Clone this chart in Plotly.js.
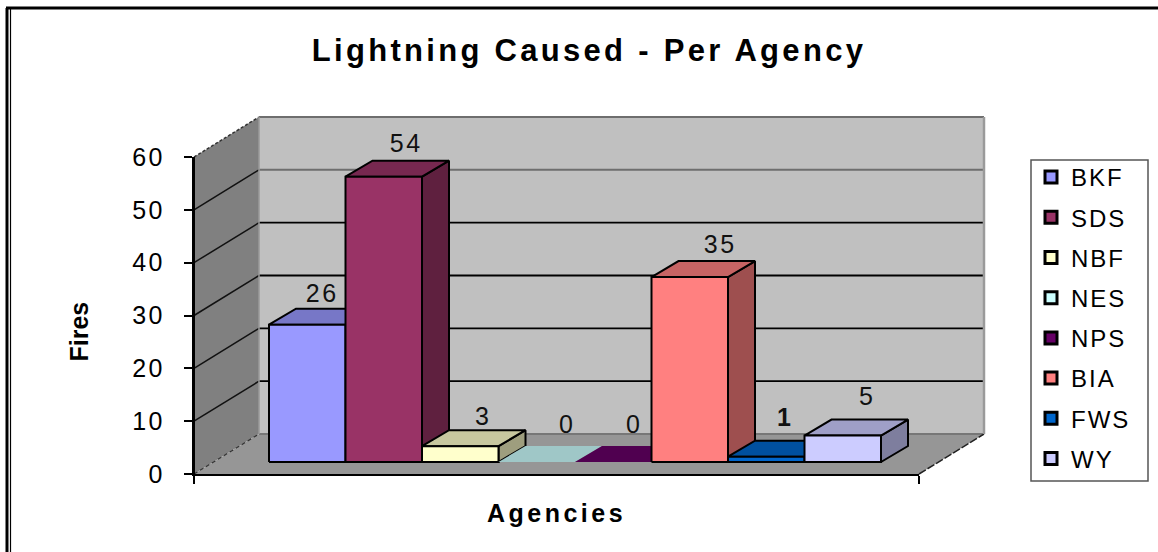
<!DOCTYPE html>
<html>
<head>
<meta charset="utf-8">
<script src="https://cdn.plot.ly/plotly-3.0.1.min.js"></script>
<style>
html,body{margin:0;padding:0;background:#fff}
.gtitle{letter-spacing:3.3px}
.x2title{letter-spacing:3.5px}
.legendtext{letter-spacing:2px}
.y2tick text{letter-spacing:2.5px}
.textpoint text{letter-spacing:2.5px}
</style>
</head>
<body>
<div id="chart" style="width:1158px;height:552px"></div>
<script>
const agencies = ["BKF","SDS","NBF","NES","NPS","BIA","FWS","WY"];
const fires = [26,54,3,0,0,35,1,5];
const colors = ["#9999FF","#993366","#FFFFCC","#CCFFFF","#660066","#FF8080","#0066CC","#CCCCFF"];
const yTicks = [0,10,20,30,40,50,60];
const labelNudgeX = [1.5,9,9.5,17,7.5,17,5.5,11];
const labelNudgeY = [13,15,11,19,19,14,21,21];
const labelWeights = [400,400,400,400,400,400,700,400];

// scales
const slotPx = 76.5, unitPx = 5.283;
const W = 1158, H = 552, L = 194, R = 919, T = 157, B = 474;
const PL = 189, PR = 990, PT = 112, PB = 479; // full drawing box of the 3D scene
const barLeftPx = 269;
const xMin = (L - barLeftPx) / slotPx, xMax = (R - barLeftPx) / slotPx;
const wallDX = 65 / slotPx, wallDY = 40 / unitPx;
const barDX = 27 / slotPx, barDY = 16 / unitPx, barLift = 12 / unitPx;
const yTop = yTicks[yTicks.length - 1];

function shade(hex, k) {
  const n = parseInt(hex.slice(1), 16);
  const c = [n >> 16, (n >> 8) & 255, n & 255].map(v => Math.round(v * k));
  return `rgb(${c[0]},${c[1]},${c[2]})`;
}
function poly(pts, fill, lineColor, lineW) {
  return {
    type: "scatter", mode: "lines", x: pts.map(p => p[0]), y: pts.map(p => p[1]),
    fill: "toself", fillcolor: fill, showlegend: false, hoverinfo: "skip",
    line: { color: lineColor || fill, width: lineW === undefined ? 0 : lineW, simplify: false }
  };
}
function seg(pts, color, width, dash) {
  return {
    type: "scatter", mode: "lines", x: pts.map(p => p[0]), y: pts.map(p => p[1]),
    showlegend: false, hoverinfo: "skip",
    line: { color, width, dash: dash || "solid", simplify: false }
  };
}

const traces = [];
// legend-carrying bars
agencies.forEach((a, i) => traces.push({
  type: "bar", name: a, legendgroup: a, x: [i + 0.5], y: [fires[i]], base: [barLift], width: [1],
  marker: { color: colors[i], line: { color: "#000", width: 3 } }, hoverinfo: "name+y"
}));

// walls and floor
traces.push(poly([[xMin + wallDX, wallDY], [xMax + wallDX, wallDY], [xMax + wallDX, yTop + wallDY], [xMin + wallDX, yTop + wallDY], [xMin + wallDX, wallDY]], "#C0C0C0"));
traces.push(poly([[xMin, 0], [xMin + wallDX, wallDY], [xMin + wallDX, yTop + wallDY], [xMin, yTop], [xMin, 0]], "#808080"));
traces.push(poly([[xMin, 0], [xMax, 0], [xMax + wallDX, wallDY], [xMin + wallDX, wallDY], [xMin, 0]], "#969696"));

// gridlines
yTicks.forEach(t => {
  const col = t >= 50 ? "#6e6e6e" : (t === 0 ? "#777" : "#000");
  const w = t >= 50 || t === 0 ? 2 : 1.8;
  traces.push(seg([[xMin + wallDX, t + wallDY], [xMax + wallDX, t + wallDY]], col, w));
  if (t > 0 && t < yTop) traces.push(seg([[xMin, t], [xMin + wallDX, t + wallDY]], "#111", 1.5));
});
traces.push(seg([[xMin, yTop], [xMin + wallDX, yTop + wallDY]], "#333", 1.5, "3px,2px"));
traces.push(seg([[xMin, 0], [xMin + wallDX, wallDY]], "#333", 1.2, "4px,3px"));
traces.push(seg([[xMax, 0], [xMax + wallDX, wallDY]], "#222", 1.5, "8px,2px"));
traces.push(seg([[xMax + wallDX, wallDY], [xMax + wallDX, yTop + wallDY]], "#9a9a9a", 2.5));
traces.push(seg([[xMin + wallDX, wallDY], [xMin + wallDX, yTop + wallDY]], "#9a9a9a", 1.5));

// 3D bars
fires.forEach((v, i) => {
  const x0 = i, x1 = i + 1, y0 = barLift, y1 = barLift + v;
  const edge = v === 0 ? null : "#000";
  const lw = v === 0 ? 0 : 2;
  if (v > 0) {
    traces.push(poly([[x1, y0], [x1 + barDX, y0 + barDY], [x1 + barDX, y1 + barDY], [x1, y1], [x1, y0]], shade(colors[i], 0.62), edge, lw));
  }
  traces.push(poly([[x0, y1], [x1, y1], [x1 + barDX, y1 + barDY], [x0 + barDX, y1 + barDY], [x0, y1]], shade(colors[i], 0.78), edge, lw));
  if (v > 0) {
    traces.push(poly([[x0, y0], [x1, y0], [x1, y1], [x0, y1], [x0, y0]], colors[i], edge, lw));
  }
});

// value labels
traces.push({
  type: "scatter", mode: "text", cliponaxis: false, showlegend: false, hoverinfo: "skip",
  x: fires.map((v, i) => i + 0.5 + barDX / 2 + labelNudgeX[i] / slotPx),
  y: fires.map((v, i) => barLift + v + barDY + labelNudgeY[i] / unitPx),
  text: fires.map(String), textposition: "middle center",
  textfont: { family: "Liberation Sans, Arial, sans-serif", size: 25, color: "#111", weight: labelWeights }
});

// front edge of the left wall, on the visible value axes
traces.push({
  type: "scatter", mode: "lines", xaxis: "x2", yaxis: "y2", showlegend: false, hoverinfo: "skip",
  x: [xMin, xMin], y: [0, yTop], line: { color: "#000", width: 2 }
});

const px = x => (x - PL) / (PR - PL), py = y => (PB - y) / (PB - PT);
const border = (x0, y0, x1, y1, w) => ({
  type: "line", xref: "paper", yref: "paper", x0: px(x0), y0: py(y0), x1: px(x1), y1: py(y1),
  line: { color: "#000", width: w }
});

const layout = {
  width: W, height: H, autosize: false,
  margin: { l: PL, r: W - PR, t: PT, b: H - PB, pad: 0 },
  paper_bgcolor: "#fff", plot_bgcolor: "rgba(0,0,0,0)",
  barmode: "overlay",
  font: { family: "Liberation Sans, Arial, sans-serif", color: "#000" },
  title: {
    text: "<b>Lightning Caused - Per Agency</b>", x: 589 / W, xanchor: "center", y: 1 - 50 / H, yanchor: "middle",
    font: { size: 31, color: "#000" }
  },
  // scene axes: same scale as the visible axes, over the whole 3D box
  xaxis: { visible: false, domain: [0, 1], anchor: "y", range: [(PL - barLeftPx) / slotPx, (PR - barLeftPx) / slotPx] },
  yaxis: { visible: false, domain: [0, 1], anchor: "x", range: [(B - PB) / unitPx, (B - PT) / unitPx] },
  // visible axes
  xaxis2: {
    domain: [px(L), px(R)], anchor: "y2",
    range: [xMin, xMax], tickmode: "array", tickvals: [xMin, xMax], ticktext: ["", ""],
    ticks: "outside", ticklen: 8, tickcolor: "#000", tickwidth: 1.5, showgrid: false, zeroline: false,
    showline: true, linecolor: "#000", linewidth: 2, automargin: false,
    title: { text: "<b>Agencies</b>", standoff: 19, font: { size: 25 } }
  },
  yaxis2: {
    domain: [py(B), py(T)], anchor: "x2",
    range: [0, yTop], tickmode: "array", tickvals: yTicks, ticks: "outside", ticklen: 8, tickcolor: "#000",
    tickwidth: 1.5, showgrid: false, zeroline: false, showline: true, linecolor: "#000", linewidth: 2,
    automargin: false, ticklabelstandoff: 14, tickfont: { size: 25 }
  },
  legend: {
    x: px(1031), y: py(155), xanchor: "left", yanchor: "top", bgcolor: "rgba(0,0,0,0)", borderwidth: 0,
    font: { size: 24, color: "#000" }, tracegroupgap: 6, traceorder: "grouped"
  },
  annotations: [{
    xref: "paper", yref: "paper", x: px(78.5), y: py(332), text: "<b>Fires</b>", textangle: -90, showarrow: false,
    font: { size: 25, color: "#000" }, xanchor: "center", yanchor: "middle"
  }],
  shapes: [
    border(6, 8, W, 8, 3), border(7, 8, 7, H, 3), border(10.5, 8, 10.5, H, 1.2),
    { type: "rect", xref: "paper", yref: "paper", x0: px(1031), x1: px(1148), y0: py(481), y1: py(160),
      line: { color: "#555", width: 1.5 }, fillcolor: "rgba(0,0,0,0)" }
  ]
};

Plotly.newPlot("chart", traces, layout, { displayModeBar: false, responsive: false });
</script>
</body>
</html>
